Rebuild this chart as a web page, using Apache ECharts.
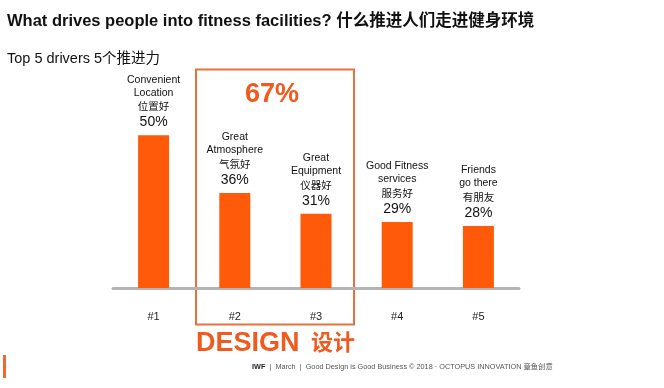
<!DOCTYPE html>
<html>
<head>
<meta charset="utf-8">
<script src="https://cdn.jsdelivr.net/npm/echarts@6/dist/echarts.min.js"></script>
<style>
html,body{margin:0;padding:0;background:#fff;}
#c{width:664px;height:388px;}
</style>
</head>
<body>
<div id="c"></div>
<script>
var ranks = ['#1', '#2', '#3', '#4', '#5'];
var namesEn = [['Convenient', 'Location'], ['Great', 'Atmosphere'], ['Great', 'Equipment'], ['Good Fitness', 'services'], ['Friends', 'go there']];
var namesZh = ['位置好', '气氛好', '仪器好', '服务好', '有朋友'];
var values = [50, 36, 31, 29, 28];
var designTotal = '67%';

var FONT = '"Liberation Sans", Arial, "Noto Sans CJK SC", sans-serif';
var ORANGE = '#ff5a0a';

var chart = echarts.init(document.getElementById('c'));
chart.setOption({
  backgroundColor: '#fff',
  animation: false,
  grid: { left: 113, right: 145, top: 94, bottom: 100 },
  xAxis: {
    type: 'category',
    data: ranks,
    axisLine: { lineStyle: { color: '#b4b4b4', width: 3 } },
    axisTick: { show: false },
    axisLabel: { margin: 23, color: '#222', fontSize: 11, fontFamily: FONT }
  },
  yAxis: {
    type: 'value', min: 13, max: 60,
    show: false, splitLine: { show: false }
  },
  series: [{
    type: 'bar',
    barWidth: 31,
    data: values,
    itemStyle: { color: ORANGE },
    label: {
      show: true,
      position: 'top',
      distance: 4,
      fontFamily: FONT,
      formatter: function (p) {
        var i = p.dataIndex;
        return '{n|' + namesEn[i][0] + '}\n{n|' + namesEn[i][1] + '}\n{z|' + namesZh[i] + '}\n{v|' + p.value + '%}';
      },
      rich: {
        n: { fontSize: 10.5, lineHeight: 13, color: '#111', fontFamily: FONT, align: 'center' },
        z: { fontSize: 10.5, lineHeight: 14, color: '#111', fontFamily: '"Noto Sans CJK SC", sans-serif', align: 'center' },
        v: { fontSize: 14, lineHeight: 18, color: '#111', fontFamily: FONT, align: 'center' }
      }
    }
  }],
  graphic: [
    { type: 'text', left: 7, top: 13, style: { text: 'What drives people into fitness facilities? 什么推进人们走进健身环境', font: 'bold 16.5px ' + FONT, fill: '#111' } },
    { type: 'text', left: 7, top: 52, style: { text: 'Top 5 drivers 5个推进力', font: '14.5px ' + FONT, fill: '#111' } },
    { type: 'rect', shape: { x: 196, y: 69.5, width: 158, height: 255 }, style: { fill: 'none', stroke: '#e8703a', lineWidth: 2 } },
    { type: 'text', x: 272, y: 95, style: { text: designTotal, font: 'bold 27px ' + FONT, fill: '#f05a1e', align: 'center', verticalAlign: 'middle' } },
    { type: 'text', x: 196, y: 344, style: { text: 'DESIGN', font: 'bold 27px ' + FONT, fill: '#f05a1e', align: 'left', verticalAlign: 'middle' } },
    { type: 'text', x: 311, y: 342, style: { text: '设计', font: 'bold 22px "Noto Sans CJK SC", sans-serif', fill: '#f05a1e', align: 'left', verticalAlign: 'middle' } },
    { type: 'rect', shape: { x: 3, y: 355, width: 3, height: 23 }, style: { fill: '#f06a2a' } },
    { type: 'text', x: 252, y: 367, style: { text: '{b|IWF}  |  March  |  Good Design is Good Business © 2018 · OCTOPUS INNOVATION 章鱼创意', font: '7.3px ' + FONT, fill: '#555', verticalAlign: 'middle', rich: { b: { font: 'bold 7.3px ' + FONT, fill: '#222' } } } }
  ]
});
</script>
</body>
</html>
